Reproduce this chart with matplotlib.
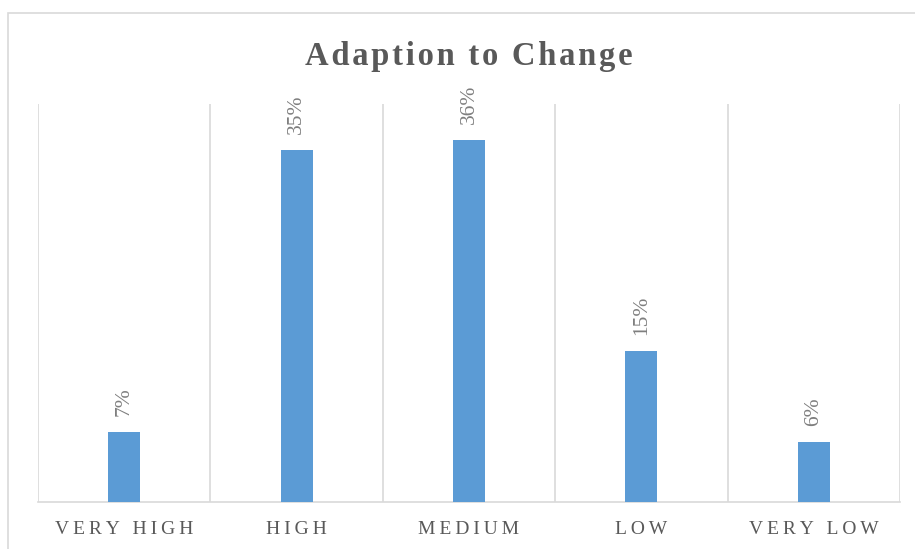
import matplotlib
matplotlib.use("Agg")
import matplotlib.pyplot as plt
from matplotlib.patches import Rectangle
from matplotlib.ticker import FixedLocator

categories = ["VERY HIGH", "HIGH", "MEDIUM", "LOW", "VERY LOW"]
shares = [0.07, 0.35, 0.36, 0.15, 0.06]
value_labels = ["7%", "35%", "36%", "15%", "6%"]

W, H = 915, 549
fig = plt.figure(figsize=(W / 100, H / 100), dpi=100)

SERIF = ["Liberation Serif", "DejaVu Serif"]

# light outer chart frame
fig.patches.append(Rectangle((8 / W, -0.1), 1.2, 1 - 13 / H + 0.1,
                             transform=fig.transFigure, fill=False,
                             edgecolor="#D9D9D9", linewidth=1.2, zorder=0))

left, right, bottom, top = 38 / W, 900 / W, 1 - 502 / H, 1 - 104 / H
ax = fig.add_axes([left, bottom, right - left, top - bottom])

def spaced(s, gap="\u2009"):
    return gap.join(list(s))

x = list(range(len(categories)))
ax.bar(x, shares, width=0.186, color="#5B9BD5", zorder=3)
ax.set_xlim(-0.5, len(categories) - 0.5)
ax.set_ylim(0, 0.396)

for xi, v, lab in zip(x, shares, value_labels):
    ax.annotate(lab, (xi, v), xytext=(0, 16), textcoords="offset pixels",
                rotation=90, ha="center", va="bottom", color="#7F7F7F",
                fontsize=15.5, family=SERIF)

ax.set_xticks(x)
ax.set_xticklabels([spaced(c) for c in categories], family=SERIF,
                   fontsize=14, color="#595959")
ax.tick_params(axis="x", length=0, pad=14)
ax.set_yticks([])
ax.xaxis.set_minor_locator(FixedLocator([i - 0.5 for i in range(len(categories) + 1)]))
ax.tick_params(axis="x", which="minor", length=0)
ax.grid(True, which="minor", axis="x", color="#D9D9D9", linewidth=1.2, zorder=0)

for side in ("left", "right", "top"):
    ax.spines[side].set_visible(False)
ax.spines["bottom"].set_color("#D9D9D9")
ax.spines["bottom"].set_linewidth(1.2)

fig.text((left + right) / 2, 1 - 56 / H, spaced("Adaption to Change", "\u200a"),
         ha="center", va="center", fontsize=23.5, fontweight="bold",
         color="#595959", family=SERIF)

fig.savefig("out.png", dpi=100)
